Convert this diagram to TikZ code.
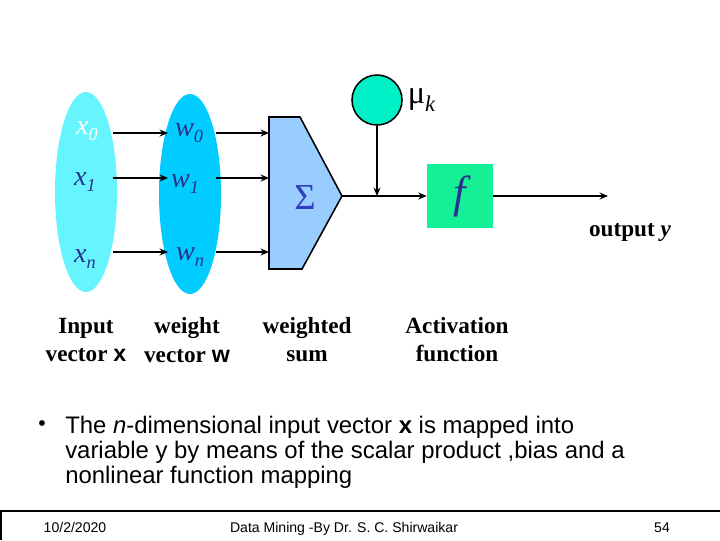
\documentclass[tikz,border=0pt]{standalone}
\usepackage{fontspec}
\setmainfont{Liberation Serif}
\setsansfont{Liberation Sans}
\usepackage{xcolor}
\usetikzlibrary{shapes.geometric,arrows.meta,positioning}

\definecolor{xcyan}{RGB}{102,245,255}
\definecolor{wcyan}{RGB}{0,204,255}
\definecolor{sumblue}{RGB}{153,204,255}
\definecolor{biasgreen}{RGB}{0,240,200}
\definecolor{actgreen}{RGB}{20,240,150}
\definecolor{navy}{RGB}{40,50,140}
\definecolor{sigblue}{RGB}{50,60,190}

\newcommand{\vsub}[2]{\textit{#1}\raisebox{-0.5ex}{\fontsize{13}{13}\selectfont\textit{#2}}}

\begin{document}
\begin{tikzpicture}[x=0.025cm, y=-0.025cm,
    vec/.style={ellipse, minimum width=1.55cm, minimum height=5cm, inner sep=0pt},
    var/.style={font=\fontsize{20}{20}\selectfont, text=navy},
    lbl/.style={align=center, font=\fontsize{16.5}{20}\selectfont\bfseries},
    arr/.style={draw, -{Stealth[length=6pt,width=5pt]}, line width=1.1pt},
    foot/.style={font=\sffamily\fontsize{10}{12}\selectfont, anchor=base}]

    \fill [white] (0,0) rectangle (720,540);
    \useasboundingbox (0,0) rectangle (720,540);

    \node [vec, fill=xcyan] (xvec) at (86,192) {};
    \node [vec, fill=wcyan] (wvec) at (190,194) {};

    \node [var, text=white] (x0) at (87,131) {\vsub{x}{0}};
    \node [var] (x1) at (85,182) {\vsub{x}{1}};
    \node [var] (xn) at (85,259) {\vsub{x}{n}};
    \node [var] (w0) at (189,133) {\vsub{w}{0}};
    \node [var] (w1) at (185,184) {\vsub{w}{1}};
    \node [var] (wn) at (190,257) {\vsub{w}{n}};

    \coordinate (xa0) at (113,133);
    \coordinate (xa1) at (113,178);
    \coordinate (xan) at (113,252);
    \coordinate (wa0) at (168,133);
    \coordinate (wa1) at (168,178);
    \coordinate (wan) at (168,252);
    \coordinate (wb0) at (216,133);
    \coordinate (wb1) at (216,178);
    \coordinate (wbn) at (216,252);
    \coordinate (sa0) at (269,133);
    \coordinate (sa1) at (269,178);
    \coordinate (san) at (269,252);

    \draw [fill=sumblue, line width=1.1pt] (269,117) -- (300,117) -- (342,196) -- (302,269) -- (269,269) -- cycle;
    \coordinate (tip) at (342,196);
    \node [text=sigblue, font=\fontsize{26}{26}\selectfont] (sum) at (305,198) {Σ};

    \node [circle, draw, fill=biasgreen, line width=1.1pt, minimum size=1.25cm] (bias) at (377,100) {};
    \node [right=0pt of bias, font=\fontsize{23}{23}\selectfont] (mu) {μ\raisebox{-0.5ex}{\fontsize{16}{16}\selectfont\textit{k}}};
    \coordinate (join) at (bias.south |- tip);

    \node [rectangle, fill=actgreen, minimum width=1.65cm, minimum height=1.575cm] (act) at (460,196) {};
    \node [text=navy, font=\fontsize{32}{32}\selectfont\itshape] (f) at (460,196) {f};
    \coordinate (out) at (608,196);

    \path [arr] (xa0) -- (wa0);
    \path [arr] (xa1) -- (wa1);
    \path [arr] (xan) -- (wan);
    \path [arr] (wb0) -- (sa0);
    \path [arr] (wb1) -- (sa1);
    \path [arr] (wbn) -- (san);
    \path [arr] (tip) -- (act.west);
    \path [arr] (bias.south) -- (join);
    \path [arr] (act.east) -- (out);

    \node [lbl] (outy) at (630,232) {output \textit{y}};
    \node [lbl] (lx) at (86,340) {Input\\vector \textsf{x}};
    \node [lbl] (lw) at (187,340) {weight\\vector \textsf{w}};
    \node [lbl] (ls) at (307,340) {weighted\\sum};
    \node [lbl] (la) at (457,340) {Activation\\function};

    \node [anchor=north west, inner sep=0pt, align=left, font=\sffamily\fontsize{17}{17.7}\selectfont] (text) at (65,416) {The \textit{n}-dimensional input vector \textbf{x} is mapped into\\variable y by means of the scalar product ,bias and a\\nonlinear function mapping};
    \node [font=\sffamily\fontsize{15}{15}\selectfont] (dot) at (42,426) {•};

    \draw [line width=0.8pt] (0,511) -- (720,511);
    \draw [line width=0.8pt] (1,511) -- (1,540);
    \node [foot] (date) at (75,532) {10/2/2020};
    \node [foot] (title) at (344,532) {Data Mining -By Dr. S. C. Shirwaikar};
    \node [foot] (page) at (662,532) {54};
\end{tikzpicture}
\end{document}
